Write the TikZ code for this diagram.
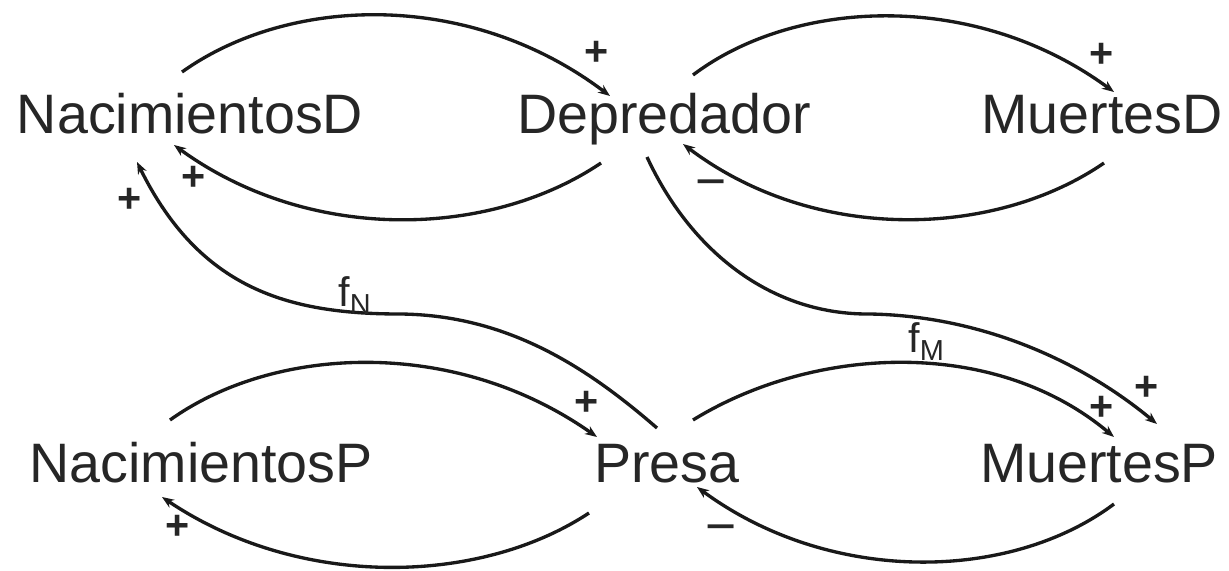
\documentclass[tikz,border=0pt]{standalone}
\usepackage{fontspec}
\setmainfont{Liberation Sans}
\usetikzlibrary{arrows.meta,calc}
\definecolor{txt}{HTML}{262626}
\begin{document}
\begin{tikzpicture}[x=0.75pt,y=-0.75pt,
  lbl/.style={inner sep=0pt, anchor=base, text=txt, font=\fontsize{41.7}{50}\selectfont},
  sgn/.style={inner sep=0pt, text=txt, font=\fontsize{31}{36}\selectfont\bfseries},
  neg/.style={inner sep=0pt, text=txt, font=\fontsize{40}{46}\selectfont},
  flab/.style={inner sep=0pt, anchor=base west, text=txt, font=\fontsize{31}{36}\selectfont},
  link/.style={line width=2.5pt, draw=black!90, -{Stealth[length=9pt,width=7pt]}}]
\useasboundingbox (0,0) rectangle (1229,571);
\fill[white] (0,0) rectangle (1229,571);

% variables
\node[lbl] (nd)    at (190,133)  {NacimientosD};
\node[lbl] (dep)   at (664,133)  {Depredador};
\node[lbl] (md)    at (1102,133) {MuertesD};
\node[lbl] (np)    at (201,482)  {NacimientosP};
\node[lbl] (presa) at (667,482)  {Presa};
\node[lbl] (mp)    at (1099,482) {MuertesP};

% top-left loop
\draw[link] ($(nd.base)+(-8,-61)$) .. controls ($(nd.base)+(100,-138)$) and ($(dep.base)+(-194,-143)$) .. ($(dep.base)+(-54,-37)$);
\draw[link] ($(dep.base)+(-63,30)$) .. controls ($(dep.base)+(-174,105)$) and ($(nd.base)+(120,111)$) .. ($(nd.base)+(-16,12)$);
% top-right loop
\draw[link] ($(dep.base)+(29,-58)$) .. controls ($(dep.base)+(131,-135)$) and ($(md.base)+(-127,-143)$) .. ($(md.base)+(12,-41)$);
\draw[link] ($(md.base)+(2,30)$) .. controls ($(md.base)+(-107,105)$) and ($(dep.base)+(151,111)$) .. ($(dep.base)+(19,11)$);
% bottom-left loop
\draw[link] ($(np.base)+(-31,-62)$) .. controls ($(np.base)+(74,-137)$) and ($(presa.base)+(-212,-145)$) .. ($(presa.base)+(-70,-45)$);
\draw[link] ($(presa.base)+(-78,31)$) .. controls ($(presa.base)+(-187,103)$) and ($(np.base)+(99,108)$) .. ($(np.base)+(-39,15)$);
% bottom-right loop
\draw[link] ($(presa.base)+(26,-62)$) .. controls ($(presa.base)+(148,-137)$) and ($(mp.base)+(-104,-145)$) .. ($(mp.base)+(15,-45)$);
\draw[link] ($(mp.base)+(15,22)$) .. controls ($(mp.base)+(-89,100)$) and ($(presa.base)+(163,103)$) .. ($(presa.base)+(30,5)$);
% f_N : Presa -> NacimientosD
\draw[link] ($(presa.base)+(-10,-54)$) .. controls ($(presa.base)+(-77,-112)$) and ($(presa.base)+(-157,-167)$) .. ($(nd.base)+(210,181)$)
  .. controls ($(nd.base)+(100,181)$) and ($(nd.base)+(10,157)$) .. ($(nd.base)+(-53,29)$);
% f_M : Depredador -> MuertesP
\draw[link] ($(dep.base)+(-17,24)$) .. controls ($(dep.base)+(26,117)$) and ($(dep.base)+(106,182)$) .. ($(mp.base)+(-229,-168)$)
  .. controls ($(mp.base)+(-119,-166)$) and ($(mp.base)+(-19,-122)$) .. ($(mp.base)+(58,-58)$);

% function labels
\node[flab] (fn) at (338,306) {f\textsubscript{N}};
\node[flab] (fm) at (908,352) {f\textsubscript{M}};

% polarity signs
\node[sgn] (s1)  at (597,53)   {+};
\node[sgn] (s2)  at (194,178)  {+};
\node[sgn] (s3)  at (130,200)  {+};
\node[sgn] (s4)  at (1102,55)  {+};
\node[neg] (s5)  at (711,190)  {−};
\node[sgn] (s6)  at (587,403)  {+};
\node[sgn] (s7)  at (178,527)  {+};
\node[sgn] (s8)  at (1147,388) {+};
\node[sgn] (s9)  at (1102,408) {+};
\node[neg] (s10) at (721,535)  {−};
\end{tikzpicture}
\end{document}
